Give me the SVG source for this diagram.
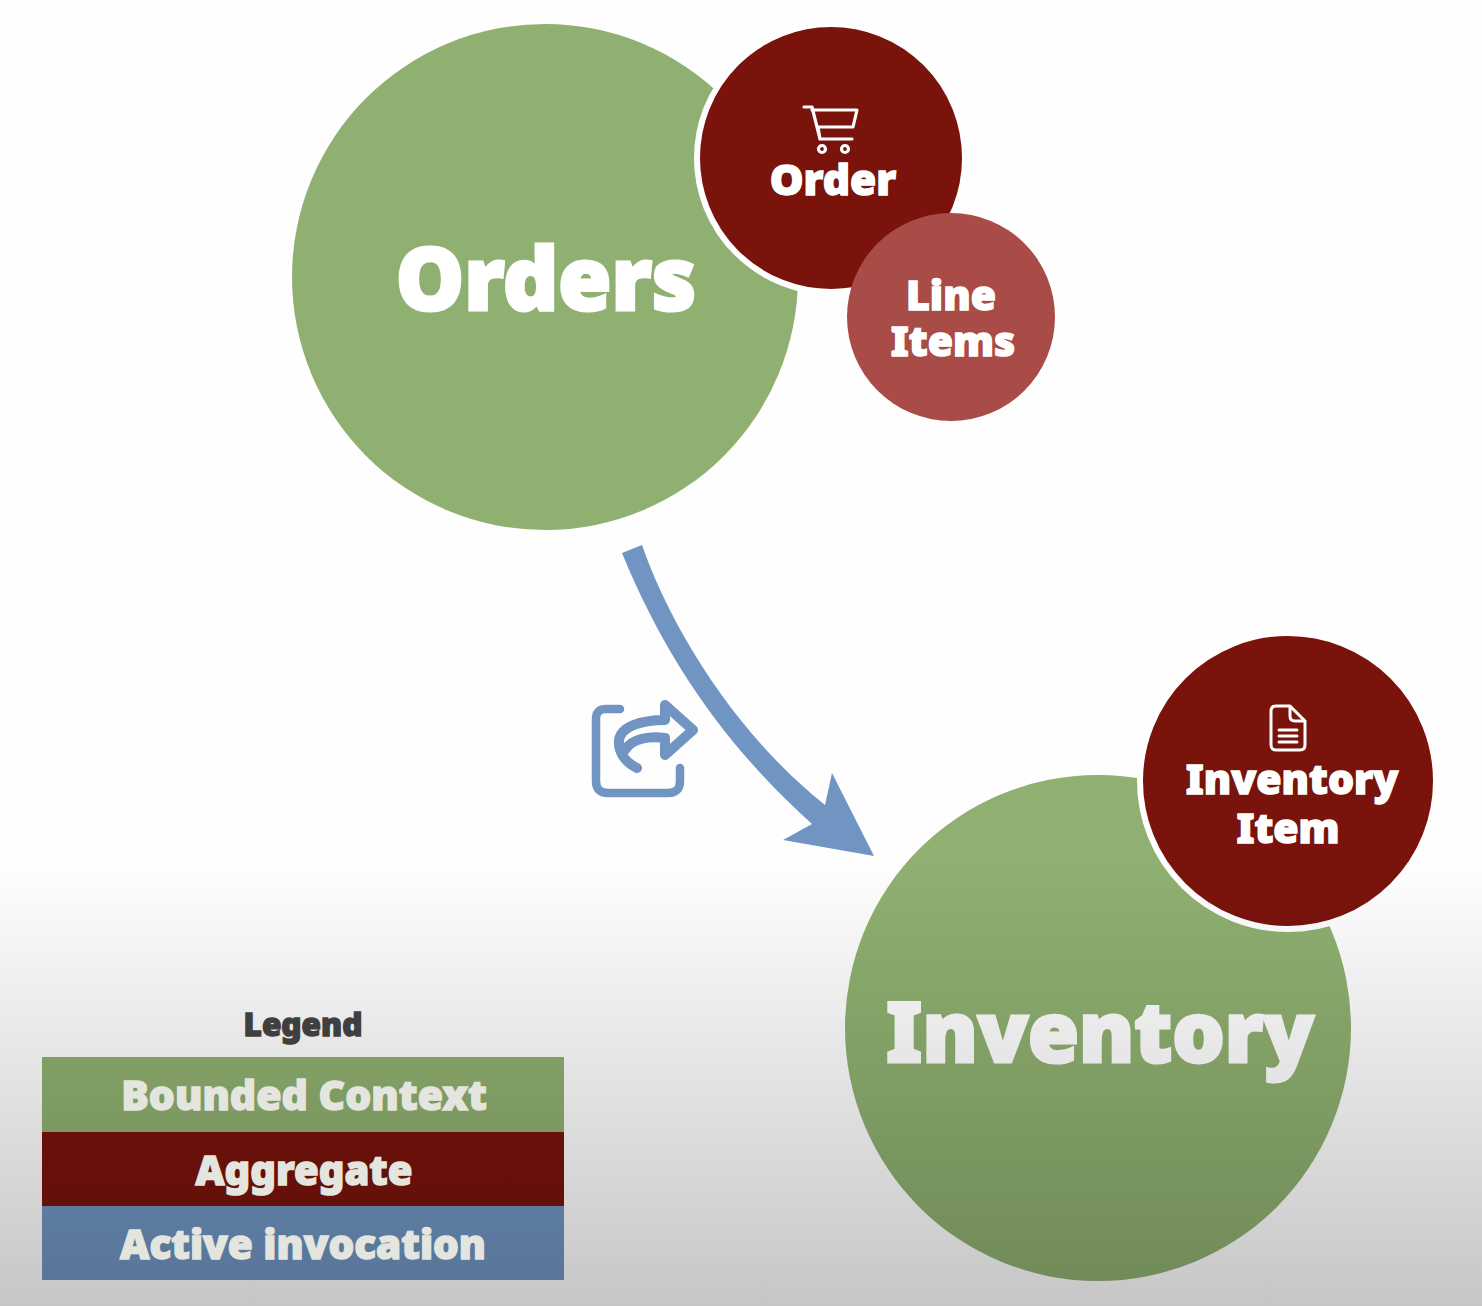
<svg xmlns="http://www.w3.org/2000/svg" width="1482" height="1306" viewBox="0 0 1482 1306">
<style>
text{font-family:"Noto Sans","Open Sans","Liberation Sans",sans-serif;font-weight:900;text-anchor:middle;fill:#fff;stroke:#fff;stroke-width:1.4;paint-order:stroke}
.big{stroke-width:3}
.ctx{fill:#8fb070}.agg{fill:#79130b}.ring{stroke:#fff;stroke-width:6}
.ic{fill:none;stroke:#fff;stroke-linecap:round;stroke-linejoin:round}
.leg{fill:#e4e5df;stroke:#e4e5df}
.blue{fill:none;stroke:#7095c2;stroke-linecap:round;stroke-linejoin:round}
</style>
<defs>
<linearGradient id="shade" x1="0" y1="0" x2="0" y2="1">
<stop offset="0" stop-color="#000" stop-opacity="0"/>
<stop offset="1" stop-color="#000" stop-opacity=".22"/>
</linearGradient>
</defs>
<rect width="1482" height="1306" fill="#fefefe"/>
<g id="connectors">
<path id="invocation-arrow" fill="#7095c2" d="M622 553L642 545C665 612 725 725 825 805L832 773L874 856L783 840L812 824C730 750 668 665 622 553Z"/>
</g>
<g id="orders"><circle class="ctx" cx="545" cy="277" r="253"/><text class="big" x="546" y="310" font-size="86">Orders</text></g>
<g id="order"><circle class="agg ring" cx="831" cy="158" r="134"/>
<g class="ic" stroke-width="3.2"><path d="M804 107H812L820 139H852M812 110L857 110L853 127H817M818 127L820 139"/><circle cx="822" cy="149" r="3.5"/><circle cx="845" cy="149" r="3.5"/></g>
<text x="833" y="195" font-size="42.5">Order</text></g>
<g id="line-items"><circle cx="951" cy="317" r="104" fill="#a94c47"/><text x="951" y="310" font-size="41">Line</text><text x="953" y="356" font-size="41">Items</text></g>
<g id="inventory"><circle class="ctx" cx="1098" cy="1028" r="253"/><text class="big" x="1100" y="1062" font-size="82.5">Inventory</text></g>
<g id="inventory-item"><circle class="agg ring" cx="1288" cy="781" r="148"/>
<g class="ic" stroke-width="3"><path d="M1276 706H1290L1305 721V745Q1305 750 1300 750H1276Q1271 750 1271 745V711Q1271 706 1276 706ZM1290 706V716Q1290 721 1295 721H1305M1279 730H1297M1279 736H1297M1279 742H1297"/></g>
<text x="1292" y="794" font-size="41">Inventory</text><text x="1288" y="843" font-size="41">Item</text></g>
<g id="share-icon" class="blue" stroke-width="8.5"><path d="M620 709H606Q596 709 596 719V781Q596 793 608 793H668Q680 793 680 781V768"/><path stroke-width="10" d="M637 768C625 762 618 752 619 740C621 727 640 720 665 720V705L693 730L665 755V738C650 736 632 738 625 750"/></g>
<g id="legend">
<rect x="42" y="1057" width="522" height="75" fill="#8fb070"/>
<rect x="42" y="1132" width="522" height="74" fill="#79130b"/>
<rect x="42" y="1206" width="522" height="74" fill="#7095c2"/>
</g>
<rect id="shade-overlay" x="0" y="860" width="1482" height="446" fill="url(#shade)"/>
<g id="legend-labels">
<text x="303" y="1036" font-size="31.5" style="fill:#3f3f3f;stroke:#3f3f3f">Legend</text>
<text class="leg" x="304" y="1110" font-size="41">Bounded Context</text>
<text class="leg" x="304" y="1185" font-size="40">Aggregate</text>
<text class="leg" x="303" y="1259" font-size="40.5">Active invocation</text>
</g>
</svg>
